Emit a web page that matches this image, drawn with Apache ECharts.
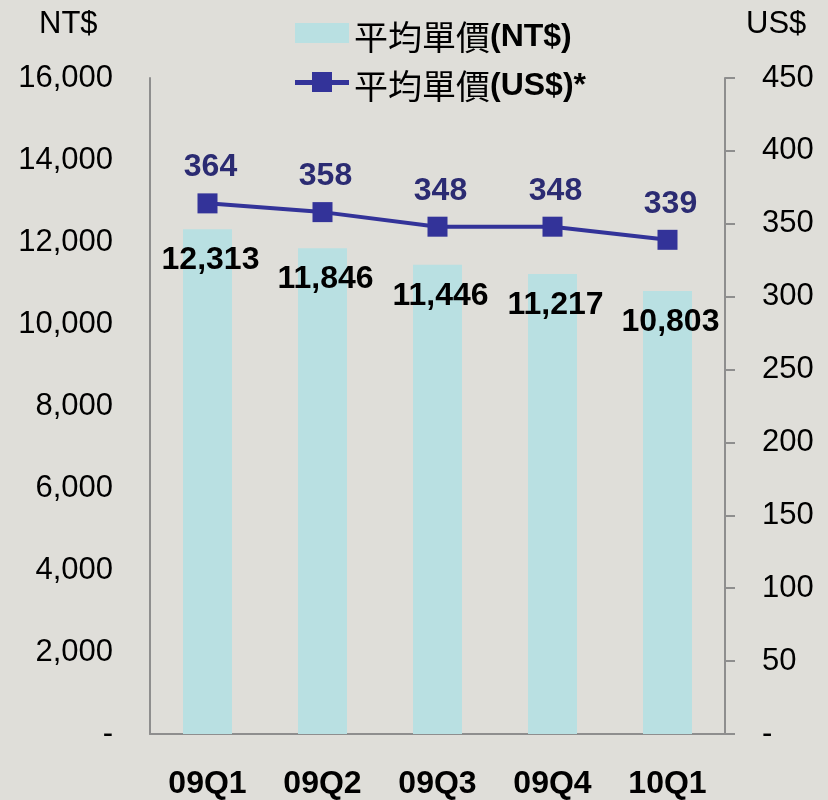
<!DOCTYPE html>
<html>
<head>
<meta charset="utf-8">
<script src="https://cdn.jsdelivr.net/npm/echarts@6/dist/echarts.min.js"></script>
<style>
html,body{margin:0;padding:0;background:#DFDED9;}
#c{width:828px;height:800px;}
</style>
</head>
<body>
<div id="c"></div>
<script>
var categories = ['09Q1','09Q2','09Q3','09Q4','10Q1'];
var ntValues = [12313, 11846, 11446, 11217, 10803];
var usValues = [364, 358, 348, 348, 339];
var seriesNames = ['平均單價(NT$)', '平均單價(US$)*'];
var leftAxisName = 'NT$';
var rightAxisName = 'US$';

var chart = echarts.init(document.getElementById('c'), null, {renderer:'canvas'});
var latin = 'Liberation Sans, Arial, sans-serif';
var cjk = '"Noto Sans CJK TC", "Noto Sans CJK SC", sans-serif';
function fmtNum(v){ return v === 0 ? '-' : v.toLocaleString('en-US'); }
var axisColor = '#8E8E8E';
var lineColor = '#333399';

chart.setOption({
  backgroundColor: '#DFDED9',
  animation: false,
  title: [
    {text: leftAxisName, left: 39, top: 9, padding: 0, textStyle:{fontFamily: latin, fontSize: 31, fontWeight:'normal', color:'#000'}},
    {text: rightAxisName, left: 746, top: 9, padding: 0, textStyle:{fontFamily: latin, fontSize: 31, fontWeight:'normal', color:'#000'}}
  ],
  legend: {
    orient: 'vertical',
    left: 295,
    top: 20,
    padding: 0,
    itemWidth: 54,
    itemHeight: 20,
    itemGap: 15,
    data: [
      {name: seriesNames[0], icon: 'rect'},
      {name: seriesNames[1], icon: 'path://M0,8L54,8L54,13L0,13Z M17,0L37,0L37,20L17,20Z', itemStyle:{color: lineColor}}
    ],
    formatter: function(n){
      var i = n.indexOf('(');
      return '{c|' + n.slice(0,i) + '}{b|' + n.slice(i) + '}';
    },
    textStyle: {
      rich: {
        c: {fontFamily: cjk, fontSize: 34, color:'#000', fontWeight:'normal', height: 42, padding:[8,0,0,0]},
        b: {fontFamily: latin, fontSize: 32, color:'#000', fontWeight:'bold', height: 42, padding:[8,0,0,0]}
      }
    }
  },
  grid: {left: 150, right: 103, top: 78, bottom: 65},
  xAxis: {
    type: 'category',
    data: categories,
    axisLine: {lineStyle:{color: axisColor, width: 2}},
    axisTick: {show:false},
    axisLabel: {fontFamily: latin, fontSize: 32, fontWeight:'bold', color:'#000', margin: 34}
  },
  yAxis: [
    {
      type: 'value', min: 0, max: 16000, interval: 2000, position:'left',
      axisLine: {show:true, lineStyle:{color: axisColor, width: 2}},
      axisTick: {show:false},
      splitLine: {show:false},
      axisLabel: {fontFamily: latin, fontSize: 31, color:'#000', margin: 37, formatter: fmtNum}
    },
    {
      type: 'value', min: 0, max: 450, interval: 50, position:'right',
      axisLine: {show:true, lineStyle:{color: axisColor, width: 2}},
      axisTick: {show:true, inside:false, length: 10, lineStyle:{color: axisColor, width: 2}},
      splitLine: {show:false},
      axisLabel: {fontFamily: latin, fontSize: 31, color:'#000', margin: 37, formatter: fmtNum}
    }
  ],
  series: [
    {
      name: seriesNames[0],
      type: 'bar',
      data: ntValues,
      yAxisIndex: 0,
      barWidth: 49,
      itemStyle: {color: '#B9E0E2'},
      label: {
        show: true, position: 'insideTop', distance: 15, offset:[3,0],
        fontFamily: latin, fontSize: 32, fontWeight: 'bold', color:'#000',
        formatter: function(p){ return fmtNum(p.value); }
      },
      z: 1
    },
    {
      name: seriesNames[1],
      type: 'line',
      data: usValues,
      yAxisIndex: 1,
      symbol: 'rect',
      symbolSize: 20,
      lineStyle: {color: lineColor, width: 4},
      itemStyle: {color: lineColor},
      label: {
        show: true, position: 'top', distance: 10, offset:[3,0],
        fontFamily: latin, fontSize: 32, fontWeight:'bold', color:'#2B2B72'
      },
      z: 3
    }
  ]
});
</script>
</body>
</html>
